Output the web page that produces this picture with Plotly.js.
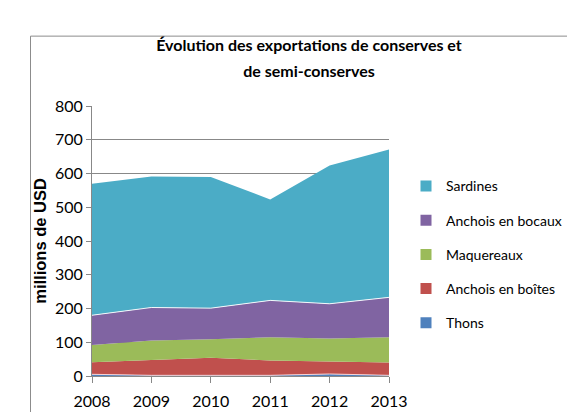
<!DOCTYPE html>
<html>
<head>
<meta charset="utf-8">
<script src="https://cdn.plot.ly/plotly-3.0.1.min.js"></script>
<style>html,body{margin:0;padding:0;background:#fff;}#chart{width:567px;height:412px;}</style>
</head>
<body>
<div id="chart"></div>
<script>
const years = [2008, 2009, 2010, 2011, 2012, 2013];
const thons = [5, 2, 2, 2, 6, 2];
const anchoisBoites = [36, 45, 52, 44, 37, 38];
const maquereaux = [51, 58, 55, 69, 68, 75];
const anchoisBocaux = [88, 98, 92, 109, 103, 118];
const sardines = [390, 388, 389, 299, 410, 438];

const seriesNames = ['Thons', 'Anchois en boîtes', 'Maquereaux', 'Anchois en bocaux', 'Sardines'];
const seriesValues = [thons, anchoisBoites, maquereaux, anchoisBocaux, sardines];
const seriesColors = ['#4F81BD', '#C0504D', '#9BBB59', '#8064A2', '#4BACC6'];
const lineColors = ['rgba(255,220,220,0.9)', 'rgba(0,0,0,0)', 'rgba(0,0,0,0)', 'rgba(255,255,255,0.9)', 'rgba(0,0,0,0)'];

const FONT = 'Lato, "Open Sans", sans-serif';

const traces = [];
seriesNames.forEach((name, i) => {
  traces.push({
    type: 'scatter', mode: 'lines', x: years, y: seriesValues[i],
    stackgroup: 'one', name: name, fillcolor: seriesColors[i],
    line: {color: lineColors[i], width: 1, shape: 'linear'},
    showlegend: false, hoverinfo: 'x+y+name'
  });
});
// legend entries, top to bottom: Sardines ... Thons
for (let i = seriesNames.length - 1; i >= 0; i--) {
  traces.push({
    type: 'scatter', mode: 'markers', x: [null], y: [null], name: seriesNames[i],
    legendgroup: 'g' + (seriesNames.length - 1 - i),
    marker: {symbol: 'square', size: 11, color: seriesColors[i]},
    showlegend: true
  });
}

const W = 297, H = 270.5, L = 92, T = 105.5;
const px = x => (x - L) / W;
const py = y => (T + H - y) / H;

const layout = {
  width: 567, height: 412,
  margin: {l: L, r: 567 - L - W, t: T, b: 412 - T - H, autoexpand: false},
  paper_bgcolor: '#ffffff', plot_bgcolor: '#ffffff',
  font: {family: FONT, color: '#000', size: 16},
  title: {
    text: '<span style="font-size:16px">Évolution des exportations de conserves et</span><br><span style="font-size:16px">de semi-conserves</span>',
    font: {family: FONT, size: 20, color: '#000', weight: 'bold'},
    xref: 'container', yref: 'container', x: 309 / 567, xanchor: 'center',
    y: 1 - 51 / 412, yanchor: 'top'
  },
  xaxis: {
    type: 'linear', range: [2008, 2013], tickvals: years, ticktext: years.map(String),
    showgrid: false, zeroline: false, showline: true, linecolor: '#888', linewidth: 1,
    ticks: 'outside', ticklen: 6, tickcolor: '#888', ticklabelstandoff: 5,
    tickfont: {family: FONT, size: 16, color: '#000'}
  },
  yaxis: {
    range: [0, 800], dtick: 100, showgrid: true, gridcolor: '#888', gridwidth: 1,
    zeroline: false, showline: true, linecolor: '#888', linewidth: 1,
    ticks: 'outside', ticklen: 5, tickcolor: '#888',
    tickfont: {family: FONT, size: 16, color: '#000'},
    title: {text: 'millions de USD', font: {family: '"Liberation Sans", Arial, sans-serif', size: 16.5, color: '#000', weight: 'bold'}, standoff: 4}
  },
  showlegend: true,
  legend: {
    x: px(406), xanchor: 'left', y: py(170), yanchor: 'top',
    traceorder: 'grouped', tracegroupgap: 13,
    font: {family: FONT, size: 14, color: '#000'},
    bgcolor: 'rgba(0,0,0,0)', borderwidth: 0, itemwidth: 30
  },
  shapes: [{
    type: 'rect', xref: 'paper', yref: 'paper',
    x0: px(30.5), x1: px(600), y0: py(440), y1: py(35.5),
    line: {color: '#8c8c8c', width: 1}, fillcolor: 'rgba(0,0,0,0)', layer: 'below'
  }]
};

Plotly.newPlot('chart', traces, layout, {displayModeBar: false, staticPlot: true});
</script>
</body>
</html>
